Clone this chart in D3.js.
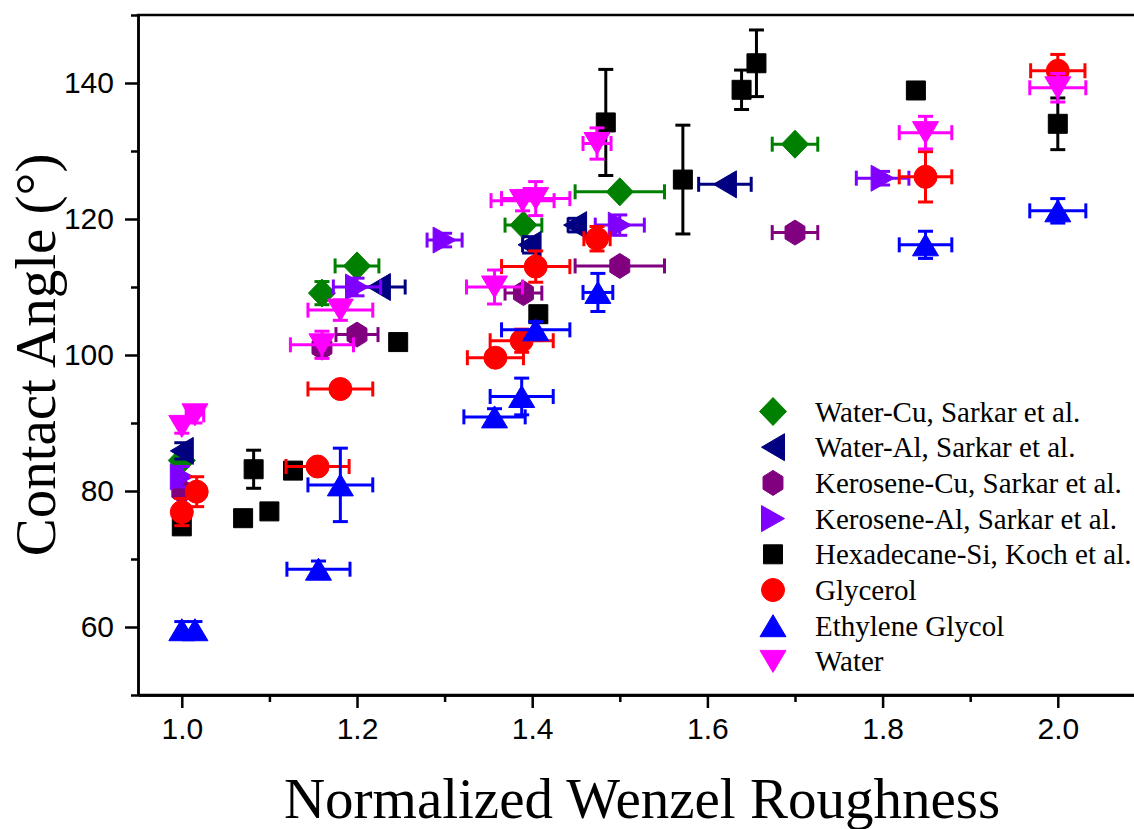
<!DOCTYPE html>
<html>
<head>
<meta charset="utf-8">
<script src="https://cdn.jsdelivr.net/npm/d3@7"></script>
<style>
  html, body { margin: 0; padding: 0; background: #fff; }
  svg { display: block; }
</style>
</head>
<body>
<svg id="chart" width="1134" height="829"></svg>
<script>
// ---------------- DATA ----------------
// each point: [x, y, xErr, yErr]
const waterCu = [[1.00, 84.5, 0, 0.8], [1.16, 109.1, 0, 1.7], [1.20, 113.1, 0.025, 0], [1.39, 119.1, 0.021, 0], [1.50, 124.0, 0.051, 0], [1.70, 131.0, 0.026, 0]];
const waterAl = [[1.00, 85.9, 0, 1.2], [1.225, 110.0, 0.03, 0], [1.397, 116.2, 0.008, 1.2], [1.449, 119.1, 0.008, 1.0], [1.62, 125.1, 0.03, 0]];
const keroseneCu = [[1.00, 80.0, 0, 1.0], [1.16, 101.1, 0, 1.0], [1.20, 103.0, 0.024, 0], [1.39, 109.1, 0.021, 0], [1.50, 113.1, 0.051, 0.8], [1.70, 118.0, 0.026, 0]];
const keroseneAl = [[1.00, 82.1, 0, 1.5], [1.20, 110.0, 0.027, 1.3], [1.30, 116.9, 0.02, 1.0], [1.50, 119.1, 0.028, 1.5], [1.80, 126.0, 0.03, 1.0]];
const hexadecaneSi = [[1.00, 74.8, 0, 0], [1.07, 76.0, 0, 0], [1.10, 77.0, 0, 0], [1.082, 83.2, 0, 2.8], [1.127, 83.0, 0, 0], [1.247, 101.9, 0, 0], [1.407, 106.0, 0, 0], [1.484, 134.2, 0, 7.8], [1.572, 125.8, 0, 8.0], [1.639, 139.0, 0, 2.9], [1.656, 142.9, 0, 4.9], [1.838, 138.9, 0, 0], [2.00, 134.0, 0, 3.8]];
const glycerol = [[1.00, 76.9, 0, 2.0], [1.017, 79.9, 0, 2.2], [1.155, 83.6, 0.036, 0], [1.181, 95.0, 0.037, 0], [1.358, 99.6, 0.032, 0], [1.388, 102.1, 0.036, 1.7], [1.404, 113.0, 0.039, 2.3], [1.474, 117.1, 0.015, 1.8], [1.849, 126.2, 0.03, 3.7], [2.00, 141.8, 0.031, 2.4]];
const ethyleneGlycol = [[1.00, 59.6, 0, 1.2], [1.015, 59.6, 0, 1.2], [1.156, 68.5, 0.036, 1.2], [1.181, 80.9, 0.037, 5.4], [1.357, 90.9, 0.035, 1.2], [1.388, 93.9, 0.036, 2.7], [1.404, 103.7, 0.039, 1.2], [1.475, 109.2, 0.017, 2.8], [1.849, 116.2, 0.03, 2.0], [2.00, 121.2, 0.032, 1.8]];
const water = [[1.00, 89.5, 0, 1.0], [1.015, 91.2, 0.01, 1.2], [1.16, 101.5, 0.036, 2.0], [1.181, 106.6, 0.037, 1.5], [1.357, 110.0, 0.032, 2.5], [1.389, 122.7, 0.036, 1.5], [1.404, 123.0, 0.039, 2.5], [1.474, 131.1, 0.016, 2.3], [1.849, 132.7, 0.03, 2.4], [2.00, 139.3, 0.032, 2.1]];

const seriesNames = ["Water-Cu, Sarkar et al.", "Water-Al, Sarkar et al.", "Kerosene-Cu, Sarkar et al.", "Kerosene-Al, Sarkar et al.", "Hexadecane-Si, Koch et al.", "Glycerol", "Ethylene Glycol", "Water"];
const seriesData = [waterCu, waterAl, keroseneCu, keroseneAl, hexadecaneSi, glycerol, ethyleneGlycol, water];
const seriesShapes = ["diamond", "triLeft", "hexagon", "triRight", "square", "circle", "triUp", "triDown"];
const seriesColors = ["#008000", "#000080", "#800080", "#8000FF", "#000000", "#FF0000", "#0000FF", "#FF00FF"];

const xTicks = [1.0, 1.2, 1.4, 1.6, 1.8, 2.0];
const yTicks = [60, 80, 100, 120, 140];
const xTitle = "Normalized Wenzel Roughness";
const yTitle = "Contact Angle (°)";

// ---------------- LAYOUT ----------------
const svg = d3.select("#chart");
const L = 138, T = 15, B = 695;
const x = d3.scaleLinear().domain([0.95, 2.1]).range([L, L + 1.15 * 876]);
const y = d3.scaleLinear().domain([50, 150]).range([B, T]);

function shapePath(type) {
  switch (type) {
    case "square": return "M-9.5,-9.5H9.5V9.5H-9.5Z";
    case "circle": return d3.arc()({innerRadius: 0, outerRadius: 11.5, startAngle: 0, endAngle: 2 * Math.PI});
    case "triUp": return "M0,-11L13,11H-13Z";
    case "triDown": return "M0,11L13,-11H-13Z";
    case "triLeft": return "M-11.5,0L11.5,-13.5V13.5Z";
    case "triRight": return "M11.5,0L-11.5,-13V13Z";
    case "diamond": return "M0,-14L13.5,0L0,14L-13.5,0Z";
    case "hexagon": {
      const pts = d3.range(6).map(i => {
        const a = Math.PI / 3 * i - Math.PI / 2;
        return [12.5 * Math.cos(a) * 0.92, 12.5 * Math.sin(a)];
      });
      return "M" + pts.map(p => p.join(",")).join("L") + "Z";
    }
  }
}

// ---------------- AXES ----------------
const axisG = svg.append("g");
const xMinor = d3.range(1.0, 2.11, 0.1).filter(v => !xTicks.some(t => Math.abs(t - v) < 1e-6));
const yMinor = d3.range(50, 151, 10).filter(v => !yTicks.includes(v));

const xAxis = d3.axisBottom(x).tickValues(xTicks).tickFormat(d3.format(".1f")).tickSize(13).tickSizeOuter(0).tickPadding(10);
const xAxisMinor = d3.axisBottom(x).tickValues(xMinor).tickFormat("").tickSize(7).tickSizeOuter(0);
const yAxis = d3.axisLeft(y).tickValues(yTicks).tickSize(13).tickSizeOuter(0).tickPadding(11);
const yAxisMinor = d3.axisLeft(y).tickValues(yMinor).tickFormat("").tickSize(7).tickSizeOuter(0);

function styleAxis(g) {
  g.selectAll("path.domain").attr("stroke", "#000").attr("stroke-width", 2.5);
  g.selectAll(".tick line").attr("stroke", "#000").attr("stroke-width", 2.5);
  g.selectAll(".tick text").attr("font-family", "Arial, 'Liberation Sans', sans-serif").attr("font-size", 30).attr("fill", "#000");
}
axisG.append("g").attr("transform", `translate(0,${B})`).call(xAxisMinor).call(styleAxis);
axisG.append("g").attr("transform", `translate(0,${B})`).call(xAxis).call(styleAxis);
axisG.append("g").attr("transform", `translate(${L},0)`).call(yAxisMinor).call(styleAxis);
axisG.append("g").attr("transform", `translate(${L},0)`).call(yAxis).call(styleAxis);
axisG.append("line").attr("x1", L).attr("x2", 1134).attr("y1", B).attr("y2", B).attr("stroke", "#000").attr("stroke-width", 2.5);
axisG.append("line").attr("x1", L - 1.25).attr("x2", 1134).attr("y1", T).attr("y2", T).attr("stroke", "#000").attr("stroke-width", 2.5);

// titles
svg.append("text").attr("x", 642).attr("y", 818).attr("text-anchor", "middle")
  .attr("font-family", "'Times New Roman', 'Liberation Serif', serif").attr("font-size", 57).text(xTitle);
svg.append("text").attr("transform", "translate(55,355) rotate(-90)").attr("text-anchor", "middle")
  .attr("font-family", "'Times New Roman', 'Liberation Serif', serif").attr("font-size", 57).text(yTitle);

// ---------------- DATA MARKS ----------------
const plotG = svg.append("g");
const cap = 7.5;
seriesData.forEach((data, si) => {
  const col = seriesColors[si];
  const g = plotG.append("g");
  data.forEach(d => {
    const cx = x(d[0]), cy = y(d[1]);
    if (d[2] > 0) {
      const x0 = x(d[0] - d[2]), x1 = x(d[0] + d[2]);
      g.append("line").attr("x1", x0).attr("x2", x1).attr("y1", cy).attr("y2", cy).attr("stroke", col).attr("stroke-width", 3);
      [x0, x1].forEach(xx => g.append("line").attr("x1", xx).attr("x2", xx).attr("y1", cy - cap).attr("y2", cy + cap).attr("stroke", col).attr("stroke-width", 3));
    }
    if (d[3] > 0) {
      const y0 = y(d[1] - d[3]), y1 = y(d[1] + d[3]);
      g.append("line").attr("x1", cx).attr("x2", cx).attr("y1", y0).attr("y2", y1).attr("stroke", col).attr("stroke-width", 3);
      [y0, y1].forEach(yy => g.append("line").attr("x1", cx - cap).attr("x2", cx + cap).attr("y1", yy).attr("y2", yy).attr("stroke", col).attr("stroke-width", 3));
    }
  });
  g.selectAll("path.mk").data(data).join("path").attr("class", "mk")
    .attr("d", shapePath(seriesShapes[si]))
    .attr("transform", d => `translate(${x(d[0])},${y(d[1])})`)
    .attr("fill", col).attr("stroke", col).attr("stroke-width", 1);
});

// ---------------- LEGEND ----------------
const leg = svg.append("g");
seriesNames.forEach((name, i) => {
  const cy = 411.5 + i * 35.7;
  leg.append("path").attr("d", shapePath(seriesShapes[i])).attr("transform", `translate(773,${cy})`)
    .attr("fill", seriesColors[i]).attr("stroke", seriesColors[i]).attr("stroke-width", 1);
  leg.append("text").attr("x", 815).attr("y", cy + 10)
    .attr("font-family", "'Times New Roman', 'Liberation Serif', serif").attr("font-size", 29).text(name);
});
</script>
</body>
</html>
